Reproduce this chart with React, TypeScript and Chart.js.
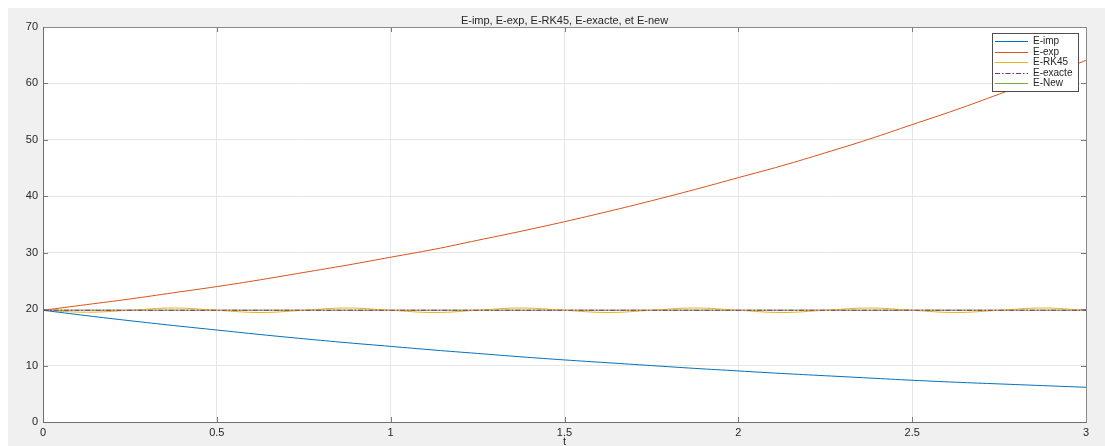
import { useEffect, useRef } from 'react';
import { Chart, registerables } from 'chart.js';

Chart.register(...registerables);

// Time samples (t) and the energy of each scheme
const tValues = [
  0, 0.125, 0.25, 0.375, 0.5, 0.625, 0.75, 0.875, 1, 1.125, 1.25, 1.375, 1.5,
  1.625, 1.75, 1.875, 2, 2.125, 2.25, 2.375, 2.5, 2.625, 2.75, 2.875, 3,
];

const eImp = [
  19.8, 18.85, 17.95, 17.1, 16.3, 15.5, 14.75, 14.05, 13.4, 12.75, 12.15, 11.55,
  11.0, 10.5, 10.0, 9.5, 9.05, 8.6, 8.2, 7.8, 7.4, 7.05, 6.75, 6.45, 6.15,
];

const eExp = [
  19.8, 20.8, 21.8, 22.9, 24.0, 25.2, 26.5, 27.8, 29.2, 30.6, 32.2, 33.8, 35.5,
  37.3, 39.2, 41.2, 43.3, 45.4, 47.7, 50.1, 52.7, 55.3, 58.1, 61.0, 64.1,
];

const eRK45 = [
  19.8, 19.45, 19.8, 20.2, 19.8, 19.4, 19.8, 20.2, 19.8, 19.4, 19.8, 20.2, 19.8,
  19.4, 19.8, 20.2, 19.8, 19.4, 19.8, 20.2, 19.8, 19.4, 19.8, 20.2, 19.8,
];

const eExacte = [
  19.8, 19.8, 19.8, 19.8, 19.8, 19.8, 19.8, 19.8, 19.8, 19.8, 19.8, 19.8, 19.8,
  19.8, 19.8, 19.8, 19.8, 19.8, 19.8, 19.8, 19.8, 19.8, 19.8, 19.8, 19.8,
];

const eNew = [
  19.8, 19.8, 19.8, 19.8, 19.8, 19.8, 19.8, 19.8, 19.8, 19.8, 19.8, 19.8, 19.8,
  19.8, 19.8, 19.8, 19.8, 19.8, 19.8, 19.8, 19.8, 19.8, 19.8, 19.8, 19.8,
];

const seriesNames = ['E-imp', 'E-exp', 'E-RK45', 'E-exacte', 'E-New'];
const seriesColors = ['#0072BD', '#D95319', '#EDB120', '#7E2F8E', '#77AC30'];

const chartTitle = 'E-imp, E-exp, E-RK45, E-exacte, et E-new';
const xAxisLabel = 't';

const FONT = '"Liberation Sans", Arial, Helvetica, sans-serif';

const toPoints = (ys: number[]) => tValues.map((t, i) => ({ x: t, y: ys[i] }));

// Figure background, title, axis box with inward ticks, x label and legend
const matlabFrame = {
  id: 'matlabFrame',
  beforeDraw(chart: any) {
    const { ctx, chartArea: a, width, height } = chart;
    ctx.save();
    ctx.fillStyle = '#f0f0f0';
    ctx.fillRect(0, 0, width, height);
    ctx.fillStyle = '#ffffff';
    ctx.fillRect(a.left, a.top, a.right - a.left, a.bottom - a.top);
    ctx.restore();
  },
  afterDraw(chart: any) {
    const { ctx, chartArea: a, scales } = chart;
    ctx.save();

    // inward tick marks
    ctx.strokeStyle = '#7a7a7a';
    ctx.lineWidth = 1;
    const tl = 5;
    ctx.beginPath();
    scales.x.ticks.forEach((tk: any) => {
      const px = Math.round(scales.x.getPixelForValue(tk.value)) + 0.5;
      ctx.moveTo(px, a.bottom);
      ctx.lineTo(px, a.bottom - tl);
      ctx.moveTo(px, a.top);
      ctx.lineTo(px, a.top + tl);
    });
    scales.y.ticks.forEach((tk: any) => {
      const py = Math.round(scales.y.getPixelForValue(tk.value)) + 0.5;
      ctx.moveTo(a.left, py);
      ctx.lineTo(a.left + tl, py);
      ctx.moveTo(a.right, py);
      ctx.lineTo(a.right - tl, py);
    });
    ctx.stroke();

    // axes box
    ctx.strokeStyle = '#8a8a8a';
    ctx.strokeRect(
      Math.round(a.left) + 0.5,
      Math.round(a.top) + 0.5,
      Math.round(a.right - a.left),
      Math.round(a.bottom - a.top)
    );
    ctx.strokeStyle = '#6e6e6e';
    ctx.beginPath();
    ctx.moveTo(Math.round(a.left) + 0.5, Math.round(a.top));
    ctx.lineTo(Math.round(a.left) + 0.5, Math.round(a.bottom) + 0.5);
    ctx.lineTo(Math.round(a.right) + 0.5, Math.round(a.bottom) + 0.5);
    ctx.stroke();

    // title
    ctx.fillStyle = '#262626';
    ctx.font = `11px ${FONT}`;
    ctx.textAlign = 'center';
    ctx.textBaseline = 'middle';
    const cx = (a.left + a.right) / 2;
    ctx.fillText(chartTitle, cx, 13);

    // x axis label
    ctx.fillText(xAxisLabel, cx, 434);

    // legend
    const lx = 984;
    const ly = 25;
    const lw = 86;
    const lh = 58;
    ctx.fillStyle = '#ffffff';
    ctx.fillRect(lx, ly, lw, lh);
    ctx.strokeStyle = '#4d4d4d';
    ctx.lineWidth = 1;
    ctx.strokeRect(lx + 0.5, ly + 0.5, lw, lh);
    ctx.font = `10px ${FONT}`;
    ctx.textAlign = 'left';
    seriesNames.forEach((name, i) => {
      const y = ly + 8 + i * 10.5;
      ctx.beginPath();
      ctx.strokeStyle = seriesColors[i];
      ctx.lineWidth = 1;
      ctx.setLineDash(i === 3 ? [5, 2, 1.5, 2] : []);
      ctx.moveTo(lx + 3, Math.round(y) + 0.5);
      ctx.lineTo(lx + 36, Math.round(y) + 0.5);
      ctx.stroke();
      ctx.setLineDash([]);
      ctx.fillStyle = '#262626';
      ctx.fillText(name, lx + 41, y + 0.5);
    });

    ctx.restore();
  },
};

export default function App() {
  const canvasRef = useRef<HTMLCanvasElement | null>(null);

  useEffect(() => {
    if (!canvasRef.current) return;
    const seriesValues = [eImp, eExp, eRK45, eExacte, eNew];
    const chart = new Chart(canvasRef.current, {
      type: 'line',
      data: {
        datasets: seriesValues.map((vals, i) => ({
          label: seriesNames[i],
          data: toPoints(vals),
          borderColor: seriesColors[i],
          backgroundColor: seriesColors[i],
          borderWidth: 1,
          borderDash: i === 3 ? [5, 2, 1.5, 2] : [],
          pointRadius: 0,
          tension: 0.4,
          fill: false,
          order: i === 3 ? 0 : i === 4 ? 2 : 1,
        })),
      },
      options: {
        animation: false,
        responsive: false,
        devicePixelRatio: 1,
        layout: { padding: { left: 0, right: 19, top: 19, bottom: 0 } },
        plugins: {
          legend: { display: false },
          title: { display: false },
          tooltip: { enabled: false },
        },
        scales: {
          x: {
            type: 'linear',
            min: 0,
            max: 3,
            afterFit: (s: any) => {
              s.height = 24;
            },
            ticks: {
              stepSize: 0.5,
              padding: 4,
              color: '#262626',
              font: { family: FONT, size: 11 },
              maxRotation: 0,
              callback: (v: any) => String(v),
            },
            grid: { color: '#e6e6e6', drawTicks: false },
            border: { display: false },
          },
          y: {
            type: 'linear',
            min: 0,
            max: 70,
            afterFit: (s: any) => {
              s.width = 35;
            },
            ticks: {
              stepSize: 10,
              padding: 5,
              color: '#262626',
              font: { family: FONT, size: 11 },
            },
            grid: { color: '#e6e6e6', drawTicks: false },
            border: { display: false },
          },
        },
      },
      plugins: [matlabFrame],
    });
    return () => chart.destroy();
  }, []);

  return (
    <div style={{ position: 'absolute', left: 8, top: 8, width: 1097, height: 438 }}>
      <canvas ref={canvasRef} width={1097} height={438} />
    </div>
  );
}
